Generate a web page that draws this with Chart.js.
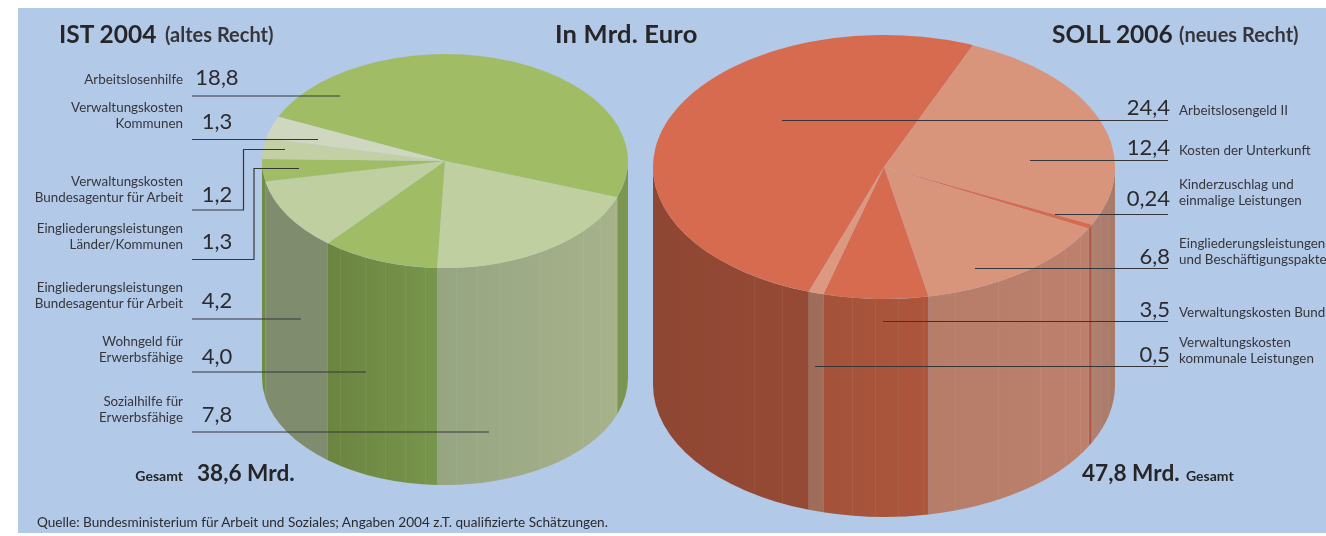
<!DOCTYPE html>
<html lang="de">
<head>
<meta charset="utf-8">
<title>IST 2004 / SOLL 2006</title>
<script src="https://cdn.jsdelivr.net/npm/chart.js@4/dist/chart.umd.min.js"></script>
<style>
    html, body { margin: 0; padding: 0; background: #fff; }
    #page { position: relative; width: 1326px; height: 536px; overflow: hidden; font-family: Lato, "Open Sans", sans-serif; color: #262628; }
    #panel { position: absolute; left: 18px; top: 8px; width: 1308px; height: 525px; background: #b3c9e8; }
    canvas { position: absolute; }
    svg { position: absolute; left: 0; top: 0; }
    .t { position: absolute; white-space: nowrap; transform: translateY(-50%); }
    .label { font-size: 13.4px; line-height: 16px; color: #36363a; }
    .right { text-align: right; }
    .value { font-size: 22px; line-height: 24px; color: #2b2b2e; }
    .sum { font-size: 22.6px; font-weight: 700; line-height: 24px; }
    .sumlabel { font-size: 14px; font-weight: 700; }
    .title { font-size: 24.5px; font-weight: 700; }
    .wide { font-size: 25.5px; letter-spacing: 0.2px; }
    .sub { font-size: 20px; font-weight: 700; color: #36363a; }
    .source { font-size: 13.6px; color: #2b2b2e; }
</style>
</head>
<body>
<div id="page">
    <div id="panel"></div>
    <canvas id="istChart"></canvas>
    <canvas id="sollChart"></canvas>
    <svg id="leaders" width="1326" height="536"></svg>
    <div id="texts"></div>
</div>
<script>
/* =========================
   DATA (clockwise from the first slice)
========================= */

const istLabels = [
    "Arbeitslosenhilfe",
    "Sozialhilfe für\nErwerbsfähige",
    "Wohngeld für\nErwerbsfähige",
    "Eingliederungsleistungen\nBundesagentur für Arbeit",
    "Eingliederungsleistungen\nLänder/Kommunen",
    "Verwaltungskosten\nBundesagentur für Arbeit",
    "Verwaltungskosten\nKommunen"
];
const istValues = [18.8, 7.8, 4.0, 4.2, 1.3, 1.2, 1.3];

const sollLabels = [
    "Arbeitslosengeld II",
    "Kosten der Unterkunft",
    "Kinderzuschlag und\neinmalige Leistungen",
    "Eingliederungsleistungen\nund Beschäftigungspakte",
    "Verwaltungskosten Bund",
    "Verwaltungskosten\nkommunale Leistungen"
];
const sollValues = [24.4, 12.4, 0.24, 6.8, 3.5, 0.5];

const istTotal = "38,6 Mrd.";
const sollTotal = "47,8 Mrd.";

/* =========================
   COLOURS
========================= */

const istTop = ["#a0bd66", "#bfcf9f", "#a0bd66", "#bfcf9f", "#a0bd66", "#c3d0a6", "#d0d7c0"];
const istWall = [
    ["#7a9650", "#7a9650"], ["#96a582", "#a6b28a"], ["#6b8540", "#78954c"], ["#808c6e", "#808c6e"],
    ["#6e8c44", "#6e8c44"], ["#808c6e", "#808c6e"], ["#808c6e", "#808c6e"]
];

const sollTop = ["#d66b4f", "#d9957c", "#d66b4f", "#d9957c", "#d66b4f", "#dc9880"];
const sollWall = [
    ["#8e4733", "#964a35"], ["#b08070", "#a87a68"], ["#b85a40", "#b85a40"],
    ["#b67d68", "#bd806c"], ["#a4523a", "#ac563c"], ["#9e6e5a", "#9e6e5a"]
];

/* =========================
   TEXT AND LEADER LAYOUT
========================= */

// same order as the data arrays: label centre y, value centre y, leader points
const istLayout = [
    { labelY: 79, valueY: 77, line: [[192, 96], [340, 96]] },
    { labelY: 409, valueY: 414, line: [[192, 432], [489, 432]] },
    { labelY: 349, valueY: 356, line: [[192, 372], [366, 372]] },
    { labelY: 295, valueY: 300, line: [[192, 319], [301, 319]] },
    { labelY: 236, valueY: 241, line: [[192, 259.5], [254, 259.5], [254, 168.5], [299, 168.5]] },
    { labelY: 189, valueY: 194, line: [[192, 210], [243.5, 210], [243.5, 149.5], [285, 149.5]] },
    { labelY: 115, valueY: 121, line: [[192, 139.5], [318, 139.5]] }
];

const sollLayout = [
    { labelY: 110, valueY: 107, line: [[782, 120.5], [1168, 120.5]] },
    { labelY: 150, valueY: 147, line: [[1030, 160.5], [1168, 160.5]] },
    { labelY: 192, valueY: 198, line: [[1055, 214.5], [1168, 214.5]] },
    { labelY: 251, valueY: 256, line: [[975, 268.5], [1168, 268.5]] },
    { labelY: 312, valueY: 309, line: [[883, 321.5], [1168, 321.5]] },
    { labelY: 350, valueY: 354, line: [[815, 366.5], [1168, 366.5]] }
];

const istFacets = [340, 365, 385, 405, 425, 456, 477, 500, 540, 583, 600, 615];
const sollFacets = [754, 782, 852, 875, 898, 923, 955, 998, 1040, 1065, 1080, 1100, 1108];

/* =========================
   CYLINDER PLUGIN
========================= */

function cylinderPlugin(geo, wallColors, facets) {

    const pad = 2;

    function toScreen(ctx, arc) {

        ctx.translate(0, pad + geo.ry - arc.y * geo.ry / arc.outerRadius);

        ctx.scale(1, geo.ry / arc.outerRadius);

    }

    return {

        id: "cylinder",

        beforeDatasetsDraw(chart) {

            const ctx = chart.ctx;
            const arcs = chart.getDatasetMeta(0).data;
            const cx = arcs[0].x;
            const rx = arcs[0].outerRadius;
            const cy = pad + geo.ry;

            arcs.forEach((arc, i) => {

                const two = Math.PI * 2;
                let a0 = arc.startAngle % two;
                if (a0 < 0) a0 += two;
                const a1 = a0 + (arc.endAngle - arc.startAngle);

                // only the front half of the rim has a wall
                [[a0, a1], [a0 - two, a1 - two]].forEach(range => {

                    const from = Math.max(range[0], 0);
                    const to = Math.min(range[1], Math.PI);
                    if (to <= from) return;

                    const xa = cx + rx * Math.cos(to);
                    const xb = cx + rx * Math.cos(from);
                    const fill = ctx.createLinearGradient(xa, 0, xb, 0);
                    fill.addColorStop(0, wallColors[i][0]);
                    fill.addColorStop(1, wallColors[i][1]);

                    ctx.beginPath();
                    ctx.ellipse(cx, cy, rx, geo.ry, 0, from, to);
                    ctx.ellipse(cx, cy + geo.depth, rx, geo.ry, 0, to, from, true);
                    ctx.closePath();
                    ctx.fillStyle = fill;
                    ctx.fill();

                });

            });

            // thin lighter facets on the wall
            ctx.strokeStyle = "rgba(255,255,255,0.06)";
            ctx.lineWidth = 1;

            facets.forEach(pageX => {

                const x = pageX - geo.left + 0.5;
                const dy = geo.ry * Math.sqrt(1 - Math.pow((x - cx) / rx, 2));

                ctx.beginPath();
                ctx.moveTo(x, cy + dy);
                ctx.lineTo(x, cy + dy + geo.depth);
                ctx.stroke();

            });

            ctx.save();

            toScreen(ctx, arcs[0]);

        },

        afterDatasetsDraw(chart) {

            chart.ctx.restore();

        }

    };

}

/* =========================
   PIE CHARTS
========================= */

function createPieChart(id, values, labels, colors, wallColors, facets, rotation, geo) {

    const pad = 2;
    const canvas = document.getElementById(id);

    canvas.width = geo.rx * 2 + pad * 2;
    canvas.height = geo.ry * 2 + geo.depth + pad * 2;
    canvas.style.left = (geo.left - pad) + "px";
    canvas.style.top = (geo.top - pad) + "px";

    geo.left -= pad;

    return new Chart(canvas, {

        type: "pie",

        data: {

            labels,

            datasets: [{

                data: values,

                backgroundColor: colors,

                borderWidth: 0,

                clip: false

            }]

        },

        options: {

            responsive: false,

            animation: false,

            rotation,

            layout: {

                padding: {

                    left: pad,
                    right: pad,
                    top: pad,
                    bottom: canvas.height - geo.rx * 2 - pad

                }

            },

            plugins: {

                legend: { display: false },

                tooltip: { enabled: false }

            }

        },

        plugins: [cylinderPlugin(geo, wallColors, facets)]

    });

}

createPieChart("istChart", istValues, istLabels, istTop, istWall, istFacets, 294.4,
    { left: 262, top: 54, rx: 183, ry: 107, depth: 217 });

createPieChart("sollChart", sollValues, sollLabels, sollTop, sollWall, sollFacets, 199,
    { left: 653, top: 35, rx: 231, ry: 132, depth: 218 });

/* =========================
   TEXTS AND LEADERS
========================= */

const texts = document.getElementById("texts");

function addText(text, cls, y, left, right) {

    const el = document.createElement("div");

    el.className = "t " + cls;
    el.innerText = text;
    el.style.top = y + "px";

    if (left !== null) el.style.left = left + "px";
    if (right !== null) el.style.right = (1326 - right) + "px";

    texts.appendChild(el);

    return el;

}

function formatValue(v) {

    return v.toLocaleString("de-DE", { minimumFractionDigits: 1 });

}

function addLeader(points) {

    const line = document.createElementNS("http://www.w3.org/2000/svg", "polyline");

    line.setAttribute("points", points.map(p => p.join(",")).join(" "));
    line.setAttribute("fill", "none");
    line.setAttribute("stroke", "#36363a");
    line.setAttribute("stroke-width", "1.2");

    document.getElementById("leaders").appendChild(line);

}

istLabels.forEach((label, i) => {

    addText(label, "label right", istLayout[i].labelY, null, 183);

    const value = addText(formatValue(istValues[i]), "value", istLayout[i].valueY, 217, null);
    value.style.transform = "translate(-50%, -50%)";

    addLeader(istLayout[i].line);

});

sollLabels.forEach((label, i) => {

    addText(label, "label", sollLayout[i].labelY, 1179, null);

    addText(formatValue(sollValues[i]), "value", sollLayout[i].valueY, null, 1170);

    addLeader(sollLayout[i].line);

});

addText("IST 2004", "title", 33, 59, null);
addText("(altes Recht)", "sub", 34, 165, null);
addText("In Mrd. Euro", "title wide", 33, 555, null);
addText("SOLL 2006", "title", 33, 1052, null);
addText("(neues Recht)", "sub", 34, 1179, null);

addText("Gesamt", "sumlabel", 475, null, 183);
addText(istTotal, "sum", 473, 197, null);
addText(sollTotal, "sum", 473, 1082, null);
addText("Gesamt", "sumlabel", 475, 1186, null);

addText("Quelle: Bundesministerium für Arbeit und Soziales; Angaben 2004 z.T. qualifizierte Schätzungen.", "source", 522, 37, null);
</script>
</body>
</html>
